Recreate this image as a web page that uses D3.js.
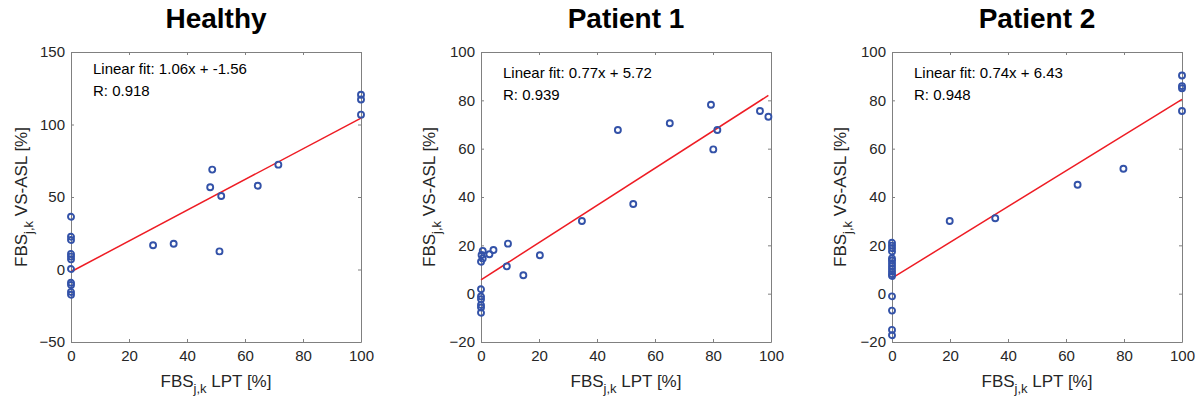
<!DOCTYPE html>
<html>
<head>
<meta charset="utf-8">
<script src="https://cdn.jsdelivr.net/npm/d3@7"></script>
<style>
  body { margin: 0; background: #fff; }
  svg { font-family: "Liberation Sans", Arial, sans-serif; }
</style>
</head>
<body>
<div id="chart"></div>
<script>
// values
var titles = ["Healthy", "Patient 1", "Patient 2"];

var healthyX = [0, 0, 0, 0, 0, 0, 0, 0, 0, 0, 0,
  28.3, 35.4, 48.0, 48.7, 51.8, 51.2, 64.4, 71.5, 100, 100, 100];
var healthyY = [36.4, 22.6, 20.3, 10.7, 8.9, 7.0, 0.3, -9.1, -10.7, -15.5, -17.4,
  16.7, 17.8, 56.7, 68.9, 50.7, 12.5, 57.8, 72.3, 120.5, 117.2, 106.8];

var p1X = [0, 0, 0, 0, 0, 0, 0, 0.2, 0.6, 0.6, 2.9, 4.3,
  9.3, 8.9, 14.6, 20.3, 34.8, 47.2, 52.5, 65.1, 79.3, 80.1, 81.5, 96.2, 99.1];
var p1Y = [1.8, -1.2, -2.3, -4.7, -5.7, -7.9, 13.2, 16.0, 17.7, 14.6, 16.3, 18.1,
  20.7, 11.3, 7.6, 15.9, 30.1, 67.7, 37.1, 70.5, 78.2, 59.7, 67.7, 75.6, 73.2];

var p2X = [0, 0, 0, 0, 0, 0, 0, 0, 0, 0, 0, 0, 0, 0, 0, 0,
  19.9, 35.6, 64.0, 79.8, 100, 100, 100, 100];
var p2Y = [21.1, 19.9, 18.8, 17.5, 14.6, 13.7, 12.6, 11.4, 10.3, 9.2, 8.1, 7.3, -1.1, -7.0, -15.0, -17.2,
  30.1, 31.2, 45.1, 51.7, 90.3, 85.9, 85.0, 75.6];

var slopes = [1.06, 0.77, 0.74];
var intercepts = [-1.56, 5.72, 6.43];
var fitLabels = ["Linear fit: 1.06x + -1.56", "Linear fit: 0.77x + 5.72", "Linear fit: 0.74x + 6.43"];
var rLabels = ["R: 0.918", "R: 0.939", "R: 0.948"];

var xTicks = [0, 20, 40, 60, 80, 100];
var yTicks1 = [-50, 0, 50, 100, 150];
var yTicks23 = [-20, 0, 20, 40, 60, 80, 100];

var panels = [
  {x: healthyX, y: healthyY, yDomain: [-50, 150], yTicks: yTicks1, left: 71, textTop: 74},
  {x: p1X, y: p1Y, yDomain: [-20, 100], yTicks: yTicks23, left: 481, textTop: 78},
  {x: p2X, y: p2Y, yDomain: [-20, 100], yTicks: yTicks23, left: 892, textTop: 78}
];

var plotTop = 52, width = 290, height = 290;
var axisColor = "#808080", labelColor = "#262626", markerColor = "#3352a8";

var svg = d3.select("#chart")
  .append("svg")
    .attr("width", 1202)
    .attr("height", 402);

panels.forEach(function(p, i) {
  var g = svg.append("g")
    .attr("transform", "translate(" + p.left + "," + plotTop + ")");

  var x = d3.scaleLinear().domain([0, 100]).range([0, width]);
  var y = d3.scaleLinear().domain(p.yDomain).range([height, 0]);

  // box with inward ticks on all sides
  function styleAxis(sel, showText) {
    sel.select(".domain").attr("stroke", axisColor);
    sel.selectAll(".tick line").attr("stroke", axisColor);
    sel.selectAll(".tick text")
      .attr("fill", labelColor)
      .style("font-size", "15px")
      .style("display", showText ? null : "none");
  }

  g.append("g")
    .attr("transform", "translate(0," + height + ")")
    .call(d3.axisBottom(x).tickValues(xTicks).tickSizeInner(-3).tickSizeOuter(0).tickPadding(8))
    .call(styleAxis, true);

  g.append("g")
    .call(d3.axisTop(x).tickValues(xTicks).tickSizeInner(-3).tickSizeOuter(0))
    .call(styleAxis, false);

  g.append("g")
    .call(d3.axisLeft(y).tickValues(p.yTicks).tickSizeInner(-3).tickSizeOuter(0).tickPadding(6))
    .call(styleAxis, true);

  g.append("g")
    .attr("transform", "translate(" + width + ",0)")
    .call(d3.axisRight(y).tickValues(p.yTicks).tickSizeInner(-3).tickSizeOuter(0))
    .call(styleAxis, false);

  // fit line over the data range
  var xr = d3.extent(p.x);
  g.append("line")
    .attr("x1", x(xr[0]))
    .attr("y1", y(slopes[i] * xr[0] + intercepts[i]))
    .attr("x2", x(xr[1]))
    .attr("y2", y(slopes[i] * xr[1] + intercepts[i]))
    .attr("stroke", "#ee1c24")
    .attr("stroke-width", 1.5);

  // points
  g.append("g")
    .selectAll("circle")
    .data(p.x.map(function(v, k) { return [v, p.y[k]]; }))
    .enter()
    .append("circle")
      .attr("cx", function(d) { return x(d[0]); })
      .attr("cy", function(d) { return y(d[1]); })
      .attr("r", 3)
      .attr("fill", "none")
      .attr("stroke", markerColor)
      .attr("stroke-width", 1.9);

  // annotation
  g.append("text")
    .attr("x", 22)
    .attr("y", p.textTop - plotTop)
    .style("font-size", "15px")
    .attr("fill", "#000")
    .text(fitLabels[i]);

  g.append("text")
    .attr("x", 22)
    .attr("y", p.textTop - plotTop + 22)
    .style("font-size", "15px")
    .attr("fill", "#000")
    .text(rLabels[i]);

  // title
  svg.append("text")
    .attr("x", p.left + width / 2)
    .attr("y", 28)
    .attr("text-anchor", "middle")
    .style("font-size", "28px")
    .style("font-weight", "bold")
    .attr("fill", "#000")
    .text(titles[i]);

  // x label
  var xl = svg.append("text")
    .attr("x", p.left + width / 2)
    .attr("y", 387)
    .attr("text-anchor", "middle")
    .style("font-size", "17px")
    .attr("fill", labelColor);
  xl.append("tspan").text("FBS");
  xl.append("tspan").attr("dy", 6).style("font-size", "13px").text("j,k");
  xl.append("tspan").attr("dy", -6).text(" LPT [%]");

  // y label
  var yl = svg.append("text")
    .attr("transform", "translate(" + (p.left - 44 - (i === 0 ? 0 : 2)) + "," + (plotTop + height / 2) + ") rotate(-90)")
    .attr("text-anchor", "middle")
    .style("font-size", "17px")
    .attr("fill", labelColor);
  yl.append("tspan").text("FBS");
  yl.append("tspan").attr("dy", 6).style("font-size", "13px").text("j,k");
  yl.append("tspan").attr("dy", -6).text(" VS-ASL [%]");
});
</script>
</body>
</html>
